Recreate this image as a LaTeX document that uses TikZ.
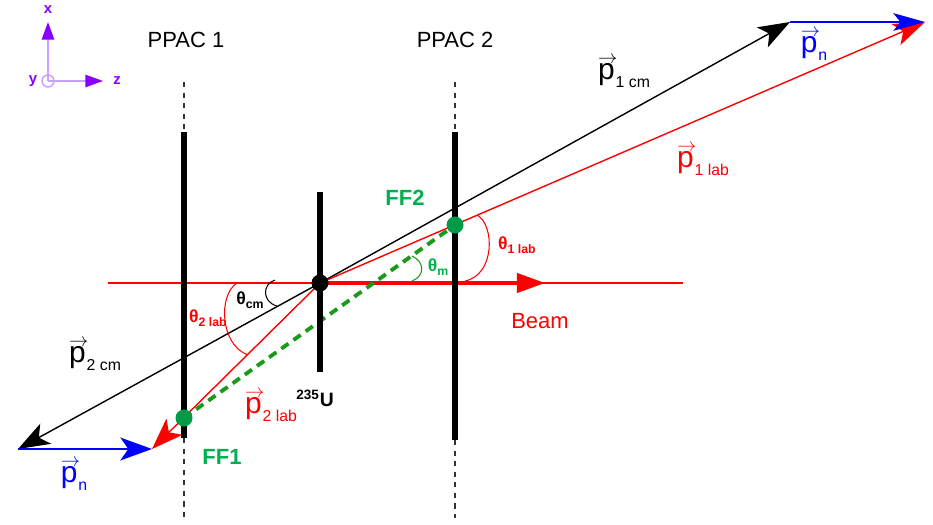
\documentclass[tikz,border=0pt]{standalone}
\usepackage{fontspec}
\setmainfont{Liberation Sans}
\usetikzlibrary{arrows.meta}
\definecolor{beamred}{HTML}{FF0000}
\definecolor{nblue}{HTML}{0000FF}
\definecolor{ffgreen}{HTML}{00B050}
\definecolor{dotgreen}{HTML}{009A49}
\definecolor{dashgreen}{HTML}{1A9A1A}
\definecolor{axpurple}{HTML}{8800FF}
\definecolor{axlight}{HTML}{C9A0FF}
\definecolor{guidegray}{HTML}{333333}

\newcommand{\pvec}[1]{\rlap{\raisebox{9.5pt}{\fontsize{11}{11}\selectfont$\rightarrow$}}p\kern0.6pt\raisebox{-4.5pt}{\fontsize{9}{10}\selectfont #1}}
\newcommand{\thsub}[1]{\bfseries θ\raisebox{-2.5pt}{\fontsize{7}{8}\selectfont\bfseries #1}}

\begin{document}
\begin{tikzpicture}[
    every node/.style={font=\fontsize{12.5}{15}\selectfont},
    vec/.style={-{Stealth[length=18pt, width=13pt, inset=4.5pt]}, line width=0.8pt},
    nvec/.style={-{Stealth[length=18pt, width=10pt, inset=4pt]}, nblue, line width=1.2pt},
    bar/.style={line width=3.4pt},
    guideline/.style={dash pattern=on 3pt off 3pt, line width=0.8pt, guidegray},
    axis/.style={-{Triangle[length=10pt, width=7pt, color=axpurple]}, axlight, line width=1pt},
    axlab/.style={font=\fontsize{8.5}{10}\selectfont\bfseries, text=axpurple},
    dot/.style={circle, fill, inner sep=0pt, minimum size=0.34cm},
    ffdot/.style={dot, fill=dotgreen},
    plab/.style={font=\fontsize{17}{20}\selectfont},
    ang/.style={line width=0.6pt},
    anglab/.style={font=\fontsize{10}{12}\selectfont},
    fflab/.style={font=\fontsize{12.5}{15}\selectfont\bfseries, text=ffgreen},
]
\useasboundingbox (0,0) rectangle (18.66,10.48);

% ================================================================ axes
\coordinate (ax0) at (0.96, 8.86);
\coordinate (axx) at (0.96, 10.04);
\coordinate (axz) at (2.06, 8.86);
\draw[axis] (ax0) -- (axx);
\draw[axis] (ax0) -- (axz);
\draw[axlight, line width=0.8pt] (ax0) circle (0.12);
\node[axlab] (xlab) at (0.96, 10.28) {x};
\node[axlab] (ylab) at (0.66, 8.86) {y};
\node[axlab] (zlab) at (2.34, 8.86) {z};

% ================================================================ detectors
\node (ppac1) at (3.72, 9.68) {PPAC 1};
\node (ppac2) at (9.10, 9.68) {PPAC 2};

\coordinate (p1top) at (3.68, 7.84);
\coordinate (p1bot) at (3.68, 1.72);
\coordinate (p2top) at (9.10, 7.84);
\coordinate (p2bot) at (9.10, 1.68);
\coordinate (tgtop) at (6.40, 6.64);
\coordinate (tgbot) at (6.40, 3.04);

\draw[guideline] (3.68, 8.84) -- (p1top);
\draw[guideline] (p1bot) -- (3.68, 0.12);
\draw[guideline] (9.10, 8.84) -- (p2top);
\draw[guideline] (p2bot) -- (9.10, 0.12);

% ================================================================ beam
\coordinate (tgt) at (6.40, 4.82);
\coordinate (beamL) at (2.16, 4.82);
\coordinate (beamR) at (13.66, 4.82);
\coordinate (beamtip) at (10.90, 4.82);
\draw[beamred, line width=0.6pt] (beamL) -- (beamR);
\draw[beamred, line width=1.8pt, -{Triangle[length=16pt, width=11pt]}] (tgt) -- (beamtip);
\node[text=beamred] (beam) at (10.80, 4.06) {Beam};

% ================================================================ momenta
\coordinate (cmtop) at (15.80, 10.04);
\coordinate (cmbot) at (0.36, 1.50);
\coordinate (labtop) at (18.50, 10.04);
\coordinate (labbot) at (3.04, 1.50);
\coordinate (ff1) at (3.68, 2.12);
\coordinate (ff2) at (9.10, 5.98);

\draw[vec] (tgt) -- (cmtop);
\draw[vec] (tgt) -- (cmbot);
\draw[vec, beamred] (tgt) -- (labtop);
\draw[vec, beamred] (tgt) -- (labbot);
\draw[nvec] (cmtop) -- (labtop);
\draw[nvec, -{Stealth[length=18pt, width=13pt, inset=4.5pt]}] (cmbot) -- (labbot);

% mean angle between the two fragments
\draw[dashgreen, line width=2.2pt, dash pattern=on 5pt off 3.5pt] (ff1) -- (ff2);

\draw[bar] (p1top) -- (p1bot);
\draw[bar] (p2top) -- (p2bot);
\draw[bar] (tgtop) -- (tgbot);

\node[dot] (target) at (tgt) {};
\node[ffdot] (ff1dot) at (ff1) {};
\node[ffdot] (ff2dot) at (ff2) {};

\node[plab] (p1cm) at (12.48, 9.04) {\pvec{1 cm}};
\node[plab, text=beamred] (p1lab) at (14.06, 7.28) {\pvec{1 lab}};
\node[plab, text=nblue] (pntop) at (16.28, 9.58) {\pvec{n}};
\node[plab] (p2cm) at (1.90, 3.38) {\pvec{2 cm}};
\node[plab, text=nblue] (pnbot) at (1.48, 0.98) {\pvec{n}};
\node[plab, text=beamred] (p2lab) at (5.42, 2.36) {\pvec{2 lab}};

% ================================================================ angles
\draw[ang] (5.50, 4.88) .. controls (5.24, 4.80) and (5.24, 4.44) .. (5.54, 4.36);
\draw[ang, beamred] (4.74, 4.82) .. controls (4.36, 4.58) and (4.40, 3.58) .. (4.96, 3.38);
\draw[ang, beamred] (9.54, 6.18) .. controls (9.90, 5.98) and (9.90, 4.98) .. (9.30, 4.86);
\draw[ang, dashgreen] (8.24, 5.36) .. controls (8.50, 5.24) and (8.50, 4.96) .. (8.24, 4.86);

\node[anglab] (thcm) at (5.00, 4.48) {\thsub{cm}};
\node[anglab, text=beamred] (th2) at (4.16, 4.12) {\thsub{2 lab}};
\node[anglab, text=beamred] (th1) at (10.34, 5.58) {\thsub{1 lab}};
\node[anglab, text=ffgreen] (thm) at (8.76, 5.14) {\thsub{m}};

\node[fflab] (ff1name) at (4.44, 1.34) {FF1};
\node[fflab] (ff2name) at (8.10, 6.52) {FF2};
\node[font=\fontsize{11}{13}\selectfont\bfseries] (uname) at (6.30, 2.52) {\textsuperscript{235}U};

\end{tikzpicture}
\end{document}
